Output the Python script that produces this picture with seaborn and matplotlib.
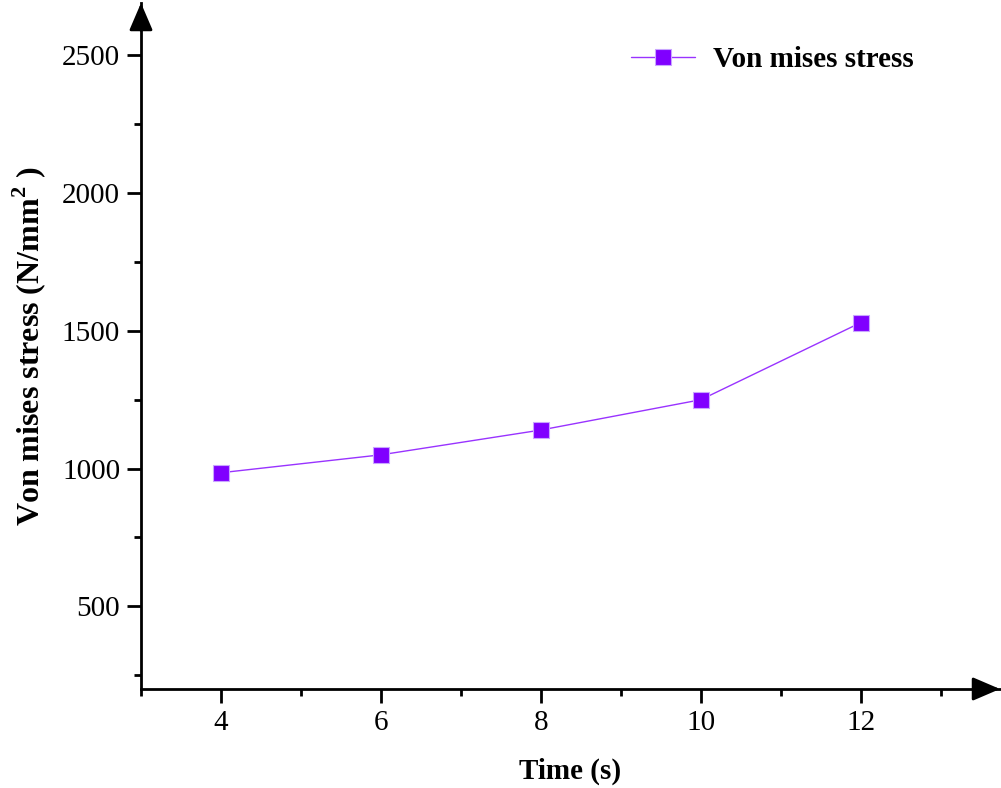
import numpy as np
import pandas as pd
import matplotlib
matplotlib.use("Agg")
import matplotlib.pyplot as plt
import seaborn as sns
from matplotlib.ticker import MultipleLocator

# data
time_s = [4, 6, 8, 10, 12]
stress = [985, 1050, 1140, 1250, 1530]

df = pd.DataFrame({"Time (s)": time_s, "Von mises stress": stress})

sns.set_theme(style="ticks")
plt.rcParams["font.family"] = ["Liberation Serif", "DejaVu Serif"]
plt.rcParams["text.color"] = "black"
plt.rcParams["axes.labelcolor"] = "black"
plt.rcParams["mathtext.fontset"] = "custom"
plt.rcParams["mathtext.rm"] = "Liberation Serif:bold"
plt.rcParams["mathtext.bf"] = "Liberation Serif:bold"

fig = plt.figure(figsize=(10.01, 7.88), dpi=100)
ax = fig.add_axes([141 / 1001, 99 / 788, 859 / 1001, 686 / 788])

sns.lineplot(data=df, x="Time (s)", y="Von mises stress", ax=ax,
             color="#9933ff", linewidth=1.0, marker="s", markersize=12,
             markerfacecolor="#8000ff", markeredgecolor="#c9a6ff",
             markeredgewidth=0.8, label="Von mises stress")

ax.set_xlim(3, 13.74)
ax.set_ylim(200, 2690)
ax.set_xticks([4, 6, 8, 10, 12])
ax.set_yticks([500, 1000, 1500, 2000, 2500])
ax.xaxis.set_minor_locator(MultipleLocator(1))
ax.yaxis.set_minor_locator(MultipleLocator(250))

for s in ["top", "right"]:
    ax.spines[s].set_visible(False)
for s in ["left", "bottom"]:
    ax.spines[s].set_linewidth(2)
    ax.spines[s].set_color("black")

ax.tick_params(which="major", direction="out", length=10, width=2,
               labelsize=21, colors="black", labelcolor="black", pad=5)
ax.tick_params(which="minor", direction="out", length=5, width=2, colors="black")

# arrow heads on the axis ends
head = "-|>,head_length=1.4,head_width=0.6"
ax.annotate("", xy=(1, 0), xytext=(0.97, 0), xycoords="axes fraction",
            arrowprops=dict(arrowstyle=head, color="black", lw=2,
                            shrinkA=0, shrinkB=0),
            annotation_clip=False)
ax.annotate("", xy=(0, 1), xytext=(0, 0.96), xycoords="axes fraction",
            arrowprops=dict(arrowstyle=head, color="black", lw=2,
                            shrinkA=0, shrinkB=0),
            annotation_clip=False)

ax.set_xlabel("Time (s)", fontsize=21, fontweight="bold", labelpad=16)
ax.set_ylabel(r"Von mises stress (N/mm$^{\mathbf{2}}$ )", fontsize=23,
              fontweight="bold", labelpad=10)

leg = ax.legend(loc="upper right", bbox_to_anchor=(0.93, 0.975), frameon=False,
                prop={"size": 21, "weight": "bold"}, handlelength=2.2,
                handletextpad=0.6)

fig.savefig("out.png", dpi=100)
